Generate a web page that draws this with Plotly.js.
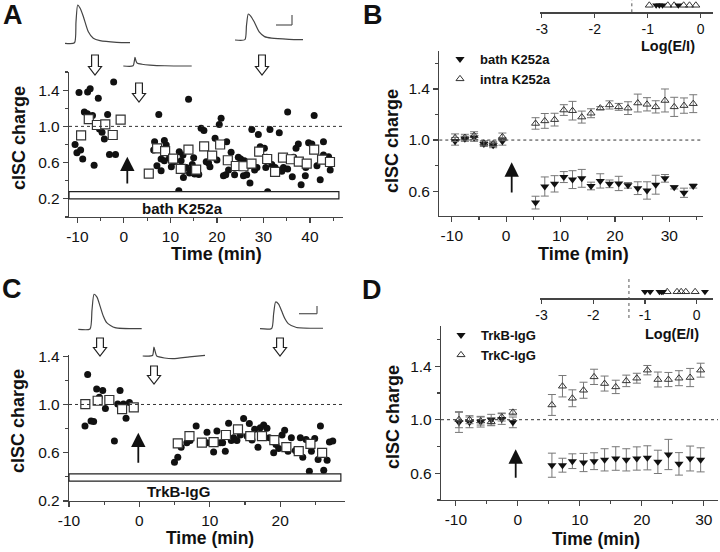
<!DOCTYPE html>
<html><head><meta charset="utf-8">
<script src="https://cdn.plot.ly/plotly-3.0.1.min.js"></script>
<style>html,body{margin:0;padding:0;background:#fff}#chart{width:720px;height:552px}</style>
</head><body><div id="chart"></div>
<script>
// ---------------- Panel A (bath K252a, single cells) ----------------
const timeA_cells = [-10.5,-10.1,-9.3,-8.85,-9.65,-7.8,-7.25,-5.5,-2.2,-8.5,-7.85,-6.75,-3.5,-5.8,-5.25,-4.7,-4.2,-6.4,-3.1,-1.8,
  6.6,7.5,7.1,8.0,8.7,8.0,8.7,9.1,9.8,10.2,
  11.8,11.9,12.3,12.7,12.8,13.4,13.9,14.1,14.7,15.0,
  15.2,16.1,16.6,17.2,17.7,18.2,18.5,19.6,20.0,20.5,
  20.9,21.4,21.9,22.1,22.5,23.05,23.8,23.9,24.6,25.1,
  25.7,25.9,26.4,26.8,27.1,27.5,28.1,28.6,28.9,29.3,
  30.2,30.5,30.7,30.9,31.4,31.8,32.5,33.1,33.4,33.95,
  34.3,35.2,35.2,36.2,37.0,37.5,38.1,38.4,39.0,39.1,
  39.7,40.4,40.9,41.5,42.2,42.9,42.9,44.0,44.35,36.5,
  6.4,10.7,14.5];
const chargeA_cells = [0.80,0.71,0.74,0.64,1.375,1.38,1.415,1.31,1.49,1.16,1.14,1.12,1.13,1.015,0.97,0.935,0.86,0.57,0.69,0.69,
  0.83,1.13,0.565,0.64,0.845,0.51,0.62,0.795,0.65,0.555,
  0.29,0.72,0.62,0.685,0.435,0.545,1.30,0.485,0.58,0.655,
  0.475,0.47,0.98,0.955,0.61,0.595,0.555,0.87,0.63,1.02,
  1.09,0.455,0.465,0.83,0.52,0.715,0.465,0.575,0.66,0.64,
  0.455,0.62,0.465,0.565,0.375,0.965,0.52,0.545,0.91,0.775,
  0.76,0.545,0.66,0.28,0.965,0.58,0.545,0.51,0.93,0.505,
  0.545,1.16,0.53,0.445,0.76,0.805,0.355,0.593,0.455,0.545,
  0.82,0.805,1.12,0.565,0.41,0.83,0.685,0.665,0.52,0.66,
  0.74,0.61,0.52];
const timeA_avg = [-9.2,-7.55,-5.8,-4.0,-2.4,-0.7,5.35,7.14,8.86,10.58,12.23,13.88,15.53,17.25,18.97,20.69,22.34,24.06,25.7,27.43,29.08,30.8,32.5,34.2,35.9,37.6,39.3,40.9,42.6,44.3];
const chargeA_avg = [0.90,1.08,1.015,1.022,0.905,1.074,0.479,0.758,0.728,0.644,0.53,0.743,0.523,0.78,0.677,0.80,0.626,0.563,0.56,0.589,0.721,0.64,0.497,0.655,0.637,0.611,0.589,0.743,0.633,0.607];

// ---------------- Panel B (bath vs intra K252a) ----------------
const timeB = [-9.4,-7.6,-5.9,-4.1,-2.4,-0.7,5.4,7.1,8.9,10.6,12.2,13.9,15.6,17.3,19.0,20.7,22.4,24.2,25.9,27.5,29.2,30.9,32.7,34.4];
const bathK252a = [0.99,1.01,1.02,0.97,0.96,0.99,0.51,0.636,0.657,0.71,0.69,0.70,0.64,0.68,0.657,0.66,0.645,0.623,0.605,0.65,0.70,0.63,0.587,0.64];
const bathK252a_sem = [0.03,0.02,0.03,0.02,0.02,0.03,0.05,0.075,0.064,0.043,0.07,0.07,0.03,0.056,0.03,0.056,0.022,0.05,0.068,0.074,0.03,0.013,0.036,0.016];
const intraK252a = [1.018,1.02,1.035,0.975,0.97,1.025,1.13,1.15,1.16,1.235,1.23,1.18,1.21,1.25,1.275,1.26,1.25,1.29,1.28,1.26,1.31,1.26,1.27,1.285];
const intraK252a_sem = [0.03,0.025,0.03,0.02,0.02,0.03,0.045,0.058,0.05,0.042,0.073,0.047,0.035,0.012,0.032,0.027,0.05,0.07,0.052,0.048,0.09,0.075,0.06,0.07];
const logEI_bath = [-0.84,-0.78,-0.72,-0.42];
const logEI_intra = [-0.97,-0.62,-0.50,-0.32,-0.21,-0.09];

// ---------------- Panel C (TrkB-IgG, single cells) ----------------
const timeC_cells = [-7.35,-7.73,-6.87,-6.5,-6.07,-5.21,-5.69,-4.83,-3.55,-2.75,-3.08,-2.27,-1.42,-1.9,
  4.98,5.45,5.93,6.73,7.21,8.06,9.6,10.54,11.01,11.48,11.82,12.2,12.67,13.05,13.38,13.85,
  14.33,14.8,15.28,15.61,15.99,16.37,16.84,17.17,17.65,18.12,18.45,19.07,19.4,19.78,20.26,
  20.63,21.11,21.58,22.15,22.86,23.2,23.67,24.14,24.43,24.9,25.38,25.71,26.18,26.66,26.99,27.46,9.59];
const chargeC_cells = [1.249,0.822,0.864,0.858,1.129,1.115,1.059,0.967,0.697,1.115,1.003,1.003,1.017,0.886,
  0.521,0.563,0.646,0.683,0.702,0.822,0.77,0.607,0.78,0.683,0.683,0.613,0.844,0.702,0.724,0.702,
  0.747,0.883,0.738,0.842,0.705,0.794,0.646,0.808,0.83,0.802,0.724,0.599,0.669,0.635,0.747,
  0.786,0.613,0.724,0.618,0.724,0.563,0.71,0.446,0.613,0.719,0.543,0.822,0.454,0.538,0.688,0.697,0.683];
const timeC_avg = [-7.68,-5.93,-4.27,-2.46,-0.8,5.45,7.11,8.87,10.54,12.29,14.0,15.75,17.41,19.16,20.87,22.63,24.29,25.95];
const chargeC_avg = [1.003,1.031,1.037,0.962,0.976,0.677,0.738,0.683,0.688,0.747,0.794,0.738,0.738,0.705,0.646,0.613,0.674,0.599];

// ---------------- Panel D (TrkB-IgG vs TrkC-IgG) ----------------
const timeD = [-9.5,-7.8,-6.0,-4.3,-2.6,-0.8,5.5,7.2,8.8,10.6,12.3,14.0,15.8,17.5,19.2,20.9,22.6,24.3,26.0,27.8,29.5];
const trkB = [0.98,0.98,0.985,1.0,1.005,0.98,0.66,0.66,0.69,0.68,0.69,0.70,0.71,0.70,0.71,0.715,0.685,0.74,0.67,0.71,0.70];
const trkB_sem = [0.075,0.04,0.04,0.04,0.04,0.04,0.09,0.052,0.055,0.068,0.063,0.083,0.088,0.083,0.087,0.09,0.087,0.113,0.084,0.093,0.09];
const trkC = [1.0,1.0,0.99,0.985,1.02,1.055,1.11,1.25,1.16,1.22,1.32,1.27,1.245,1.29,1.31,1.37,1.30,1.30,1.31,1.315,1.37];
const trkC_sem = [0.06,0.03,0.03,0.03,0.03,0.02,0.078,0.08,0.063,0.06,0.057,0.056,0.05,0.043,0.037,0.035,0.056,0.053,0.056,0.068,0.052];
const logEI_trkB = [-1.0,-0.90,-0.72,-0.68,-0.65,0.16];
const logEI_trkC = [-0.57,-0.38,-0.30,-0.21,-0.03];

// tick labels
const timeTicksA = [-10,0,10,20,30,40];
const timeTicksB = [-10,0,10,20,30];
const timeTicksC = [-10,0,10,20];
const logTicks = [-3,-2,-1,0];

// example current traces (normalised shape: t 0..1, amplitude 0..1)
const epscA_t = [0,0.146,0.169,0.195,0.231,0.282,0.359,0.435,0.538,0.795,1];
const epscA_v = [0,0.013,0.56,1,0.92,0.70,0.30,0.13,0.07,0.026,0.016];
const epscA2_t = [0,0.142,0.164,0.171,0.186,0.205,0.273,0.39,0.609,1];
const epscA2_v = [0,0.02,0.69,1,0.57,0.31,0.2,0.11,0.03,0];
const epscC_t = [0,0.185,0.216,0.248,0.295,0.342,0.394,0.448,0.579,1];
const epscC_v = [0,0.01,0.55,1,0.92,0.67,0.38,0.19,0.046,0.017];
const epscC2_t = [0,0.157,0.18,0.2,0.225,0.35,0.49,0.75,1];
const epscC2_v = [0,0.05,1,0.5,0,-0.22,-0.3,-0.1,0.08];

// ---------------- layout helpers ----------------
const W = 720, H = 552;
const PX = p => p / W, PY = p => 1 - p / H;
const FONT = 'Liberation Sans, Arial, sans-serif';
const tickFont = {family: FONT, size: 15.5, color: '#111'};
const LC = '#444';

function axisBase(dom, rng, anchor) {
  return {domain: dom, range: rng, anchor: anchor, showline: true, linecolor: LC, linewidth: 1.2,
    ticks: 'outside', ticklen: 5, tickwidth: 1.2, tickcolor: LC, tickfont: tickFont,
    showgrid: false, zeroline: false, fixedrange: true};
}
function timeAxis(dom, rng, anchor, vals) {
  const a = axisBase(dom, rng, anchor);
  a.tickmode = 'array'; a.tickvals = vals; a.ticktext = vals.map(v => String(v));
  a.minor = {tickmode: 'linear', tick0: 0, dtick: 5, ticklen: 3, tickcolor: LC, ticks: 'outside'};
  return a;
}
function chargeAxis(dom, rng, anchor) {
  const a = axisBase(dom, rng, anchor);
  a.tick0 = 0.2; a.dtick = 0.4; a.tickformat = '.1f';
  a.minor = {tick0: 0.2, dtick: 0.2, ticklen: 3, tickcolor: LC, ticks: 'outside'};
  return a;
}
function logAxis(dom, rng, anchor) {
  const a = axisBase(dom, rng, anchor);
  a.tickmode = 'array'; a.tickvals = logTicks; a.ticktext = logTicks.map(v => String(v));
  a.ticklen = 4; a.tickfont = {family: FONT, size: 14, color: '#111'};
  return a;
}
function hiddenAxis(dom, rng, anchor) {
  return {domain: dom, range: rng, anchor: anchor, visible: false, fixedrange: true};
}

const dotStyle = {symbol: 'circle', size: 7, color: '#111'};
const sqStyle = {symbol: 'square', size: 9, color: '#fff', line: {color: '#333', width: 1.2}};
const downTri = {symbol: 'triangle-down', size: 8, color: '#111'};
const upTri = {symbol: 'triangle-up-open', size: 7, color: '#333', line: {width: 1}};
const errStyle = arr => ({type: 'data', array: arr, color: '#777', thickness: 1, width: 4, visible: true});

const traces = [];
// Panel A
traces.push({type: 'scatter', mode: 'markers', x: timeA_cells, y: chargeA_cells, xaxis: 'x', yaxis: 'y', marker: dotStyle, showlegend: false});
traces.push({type: 'scatter', mode: 'markers', x: timeA_avg, y: chargeA_avg, xaxis: 'x', yaxis: 'y', marker: sqStyle, showlegend: false});
// Panel B
traces.push({type: 'scatter', mode: 'markers', name: '<b>bath K252a</b>', x: timeB, y: bathK252a, error_y: errStyle(bathK252a_sem), xaxis: 'x2', yaxis: 'y2', marker: downTri, legend: 'legend'});
traces.push({type: 'scatter', mode: 'markers', name: '<b>intra K252a</b>', x: timeB, y: intraK252a, error_y: errStyle(intraK252a_sem), xaxis: 'x2', yaxis: 'y2', marker: upTri, legend: 'legend'});
// Panel C
traces.push({type: 'scatter', mode: 'markers', x: timeC_cells, y: chargeC_cells, xaxis: 'x3', yaxis: 'y3', marker: dotStyle, showlegend: false});
traces.push({type: 'scatter', mode: 'markers', x: timeC_avg, y: chargeC_avg, xaxis: 'x3', yaxis: 'y3', marker: sqStyle, showlegend: false});
// Panel D
traces.push({type: 'scatter', mode: 'markers', name: '<b>TrkB-IgG</b>', x: timeD, y: trkB, error_y: errStyle(trkB_sem), xaxis: 'x4', yaxis: 'y4', marker: downTri, legend: 'legend2'});
traces.push({type: 'scatter', mode: 'markers', name: '<b>TrkC-IgG</b>', x: timeD, y: trkC, error_y: errStyle(trkC_sem), xaxis: 'x4', yaxis: 'y4', marker: upTri, legend: 'legend2'});
// Log(E/I) insets
const lvlB = 0.57, lvlD = 0.4;
traces.push({type: 'scatter', mode: 'markers', x: logEI_intra, y: logEI_intra.map(() => lvlB), xaxis: 'x5', yaxis: 'y5', marker: {symbol: 'triangle-up-open', size: 7, color: '#333'}, showlegend: false, cliponaxis: false});
traces.push({type: 'scatter', mode: 'markers', x: logEI_bath, y: logEI_bath.map(() => lvlB), xaxis: 'x5', yaxis: 'y5', marker: {symbol: 'triangle-down', size: 7, color: '#111'}, showlegend: false, cliponaxis: false});
traces.push({type: 'scatter', mode: 'markers', x: logEI_trkC, y: logEI_trkC.map(() => lvlD), xaxis: 'x6', yaxis: 'y6', marker: {symbol: 'triangle-up-open', size: 7, color: '#333'}, showlegend: false, cliponaxis: false});
traces.push({type: 'scatter', mode: 'markers', x: logEI_trkB, y: logEI_trkB.map(() => lvlD), xaxis: 'x6', yaxis: 'y6', marker: {symbol: 'triangle-down', size: 7, color: '#111'}, showlegend: false, cliponaxis: false});

// example traces placed in a pixel overlay
function wave(t, v, x0, w, base, amp) {
  traces.push({type: 'scatter', mode: 'lines', x: t.map(a => x0 + a * w), y: v.map(b => base - b * amp),
    xaxis: 'x7', yaxis: 'y7', line: {color: '#444', width: 1.2, shape: 'spline', smoothing: 0.6}, showlegend: false, hoverinfo: 'skip'});
}
wave(epscA_t, epscA_v, 65, 65, 43.3, 38.3);
wave(epscA2_t, epscA2_v, 123.3, 68.4, 66, 8.7);
wave(epscA_t, epscA_v, 235, 68, 40, 26);
wave(epscC_t, epscC_v, 78.3, 63.4, 329.3, 35);
wave(epscC2_t, epscC2_v, 142.7, 62.3, 356, 9);
wave(epscC_t, epscC_v, 260, 63, 328.7, 26.7);

// shapes
const shapes = [];
['x', 'x2', 'x3', 'x4'].forEach((xa, i) => {
  const ya = ['y', 'y2', 'y3', 'y4'][i];
  shapes.push({type: 'line', xref: xa + ' domain', yref: ya, x0: 0, x1: 1, y0: 1, y1: 1, line: {color: '#333', width: 1, dash: 'dot'}});
});
// application bars
shapes.push({type: 'rect', xref: 'x domain', yref: 'y', x0: 0, x1: 0.985, y0: 0.2, y1: 0.28, line: {color: '#222', width: 1.2}, fillcolor: '#fff'});
shapes.push({type: 'rect', xref: 'x3 domain', yref: 'y3', x0: 0, x1: 0.985, y0: 0.365, y1: 0.424, line: {color: '#222', width: 1.2}, fillcolor: '#fff'});
// dotted threshold in insets
shapes.push({type: 'line', xref: 'x5', yref: 'paper', x0: -1.3, x1: -1.3, y0: PY(12.3), y1: PY(0), line: {color: '#555', width: 1, dash: 'dot'}});
shapes.push({type: 'line', xref: 'x6', yref: 'paper', x0: -1.31, x1: -1.31, y0: PY(318), y1: PY(276), line: {color: '#555', width: 1, dash: 'dot'}});
// hollow down arrows
function hollowArrow(cx, top, tip) {
  const sw = 3.4, hw = 6.5, hh = 8.5;
  const pts = [[cx - sw, top], [cx + sw, top], [cx + sw, tip - hh], [cx + hw, tip - hh], [cx, tip], [cx - hw, tip - hh], [cx - sw, tip - hh]];
  const d = 'M ' + pts.map(p => PX(p[0]).toFixed(5) + ',' + PY(p[1]).toFixed(5)).join(' L ') + ' Z';
  shapes.push({type: 'path', xref: 'paper', yref: 'paper', path: d, line: {color: '#222', width: 1.2}, fillcolor: '#fff'});
}
hollowArrow(95, 55, 75); hollowArrow(139, 83, 102); hollowArrow(262, 55, 75);
hollowArrow(100, 338, 356); hollowArrow(154, 366, 384); hollowArrow(280, 338, 356);
// scale bars
function scaleBar(xl, xr, y, ytop) {
  shapes.push({type: 'line', xref: 'paper', yref: 'paper', x0: PX(xl), x1: PX(xr), y0: PY(y), y1: PY(y), line: {color: '#555', width: 1.2}});
  shapes.push({type: 'line', xref: 'paper', yref: 'paper', x0: PX(xr), x1: PX(xr), y0: PY(y), y1: PY(ytop), line: {color: '#555', width: 1.2}});
}
scaleBar(276, 292, 25, 15);
scaleBar(299, 317, 313.7, 306);

// annotations
const ann = [];
function txt(t, x, y, size, opts) {
  ann.push(Object.assign({text: t, x: PX(x), y: PY(y), xref: 'paper', yref: 'paper', showarrow: false,
    xanchor: 'center', yanchor: 'middle', font: {family: FONT, size: size, color: '#111'}}, opts || {}));
}
txt('<b>A</b>', 13, 15, 27); txt('<b>B</b>', 373, 15, 27); txt('<b>C</b>', 12, 289, 27); txt('<b>D</b>', 372, 290, 27);
txt('<b>cISC charge</b>', 19, 138, 18, {textangle: -90});
txt('<b>cISC charge</b>', 392, 141, 18, {textangle: -90});
txt('<b>cISC charge</b>', 18, 421, 18, {textangle: -90});
txt('<b>cISC charge</b>', 393, 417, 18, {textangle: -90});
txt('<b>Time (min)</b>', 216, 254, 18);
txt('<b>Time (min)</b>', 583, 254, 18);
txt('<b>Time (min)</b>', 210, 538, 17.5);
txt('<b>Time (min)</b>', 596, 539, 17.5);
txt('<b>Log(E/I)</b>', 668, 46, 14.5);
txt('<b>Log(E/I)</b>', 672, 334, 14.5);
txt('<b>bath K252a</b>', 182, 208, 15);
txt('<b>TrkB-IgG</b>', 178, 491, 15);
function upArrow(x, tip, tail) {
  ann.push({text: '', x: PX(x), y: PY(tip), xref: 'paper', yref: 'paper', showarrow: true, ax: 0, ay: tail - tip,
    arrowhead: 2, arrowsize: 1.6, arrowwidth: 1.8, arrowcolor: '#111', standoff: 0});
}
upArrow(127.3, 156.7, 185); upArrow(511.7, 162.3, 194); upArrow(138.3, 432.7, 464.3); upArrow(515.7, 449.3, 479.3);

const legFont = {family: FONT, size: 13, color: '#111'};
const layout = {
  width: W, height: H, margin: {l: 0, r: 0, t: 0, b: 0}, paper_bgcolor: '#fff', plot_bgcolor: 'rgba(0,0,0,0)',
  showlegend: true,
  xaxis: timeAxis([PX(69), PX(343)], [-11.8, 47.1], 'y', timeTicksA),
  yaxis: chargeAxis([PY(217), PY(72)], [0, 1.6], 'x'),
  xaxis2: timeAxis([PX(439.3), PX(703.3)], [-12.3, 36.25], 'y2', timeTicksB),
  yaxis2: chargeAxis([PY(216), PY(50.7)], [0.405, 1.7], 'x2'),
  xaxis3: timeAxis([PX(69), PX(345)], [-10, 29.2], 'y3', timeTicksC),
  yaxis3: chargeAxis([PY(501), PY(355)], [0.2, 1.41], 'x3'),
  xaxis4: timeAxis([PX(441), PX(718)], [-12.4, 32.3], 'y4', timeTicksB),
  yaxis4: chargeAxis([PY(500), PY(326)], [0.4, 1.7], 'x4'),
  xaxis5: logAxis([PX(540.3), PX(713.3)], [-3.03, 0.24], 'y5'),
  yaxis5: hiddenAxis([PY(12.3), PY(0)], [0, 1], 'x5'),
  xaxis6: logAxis([PX(540), PX(712.7)], [-3.03, 0.31], 'y6'),
  yaxis6: hiddenAxis([PY(298.3), PY(282)], [0, 1], 'x6'),
  xaxis7: hiddenAxis([0, 1], [0, W], 'y7'),
  yaxis7: hiddenAxis([0, 1], [H, 0], 'x7'),
  legend: {x: PX(440), y: PY(44), xanchor: 'left', yanchor: 'top', bgcolor: 'rgba(0,0,0,0)', font: legFont, tracegroupgap: 0, itemwidth: 30},
  legend2: {x: PX(441), y: PY(320), xanchor: 'left', yanchor: 'top', bgcolor: 'rgba(0,0,0,0)', font: legFont, tracegroupgap: 0, itemwidth: 30},
  shapes: shapes, annotations: ann
};
Plotly.newPlot('chart', traces, layout, {staticPlot: true, displayModeBar: false});
</script></body></html>
